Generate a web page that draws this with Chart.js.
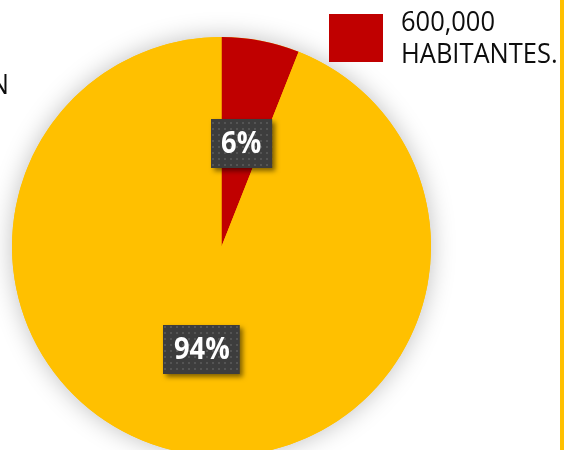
<!DOCTYPE html>
<html>
<head>
  <title>Habitantes</title>
  <script src="https://cdn.jsdelivr.net/npm/chart.js"></script>
  <style>
    html, body {
      margin: 0;
      padding: 0;
      background: #ffffff;
      overflow: hidden;
    }
    #wrap {
      position: absolute;
      left: 0;
      top: 0;
      width: 565px;
      height: 456px; /* el pastel se sale un poco por abajo, como en el original */
    }
    #franja {
      position: absolute;
      left: 560px;
      top: 0;
      width: 4px;
      height: 450px;
      background: #FFC000;
    }
  </style>
</head>
<body>
  <div id="wrap"><canvas id="pastel"></canvas></div>
  <div id="franja"></div>

  <script>
    var categorias = ['600,000 HABITANTES.', 'RESTO'];
    var valores = [6, 94];
    var colores = ['#C00000', '#FFC000'];

    // patron punteado para las cajas de las etiquetas
    var pat = document.createElement('canvas');
    pat.width = 6;
    pat.height = 6;
    var pctx = pat.getContext('2d');
    pctx.fillStyle = '#3d3d3d';
    pctx.fillRect(0, 0, 6, 6);
    pctx.fillStyle = '#545454';
    pctx.fillRect(2, 2, 2, 2);

    // texto algo estrecho, parecido a Calibri
    function textoEstrecho(ctx, txt, x, y, escala) {
      ctx.save();
      ctx.translate(x, y);
      ctx.scale(escala, 1);
      ctx.fillText(txt, 0, 0);
      ctx.restore();
    }

    var sombraPastel = {
      id: 'sombraPastel',
      beforeDatasetsDraw: function (chart) {
        var arc = chart.getDatasetMeta(0).data[0];
        if (!arc) return;
        var ctx = chart.ctx;
        ctx.save();
        ctx.shadowColor = 'rgba(0,0,0,0.25)';
        ctx.shadowBlur = 24;
        ctx.fillStyle = colores[1];
        ctx.beginPath();
        ctx.arc(arc.x, arc.y, arc.outerRadius, 0, Math.PI * 2);
        ctx.fill();
        ctx.restore();
      }
    };

    var etiquetas = {
      id: 'etiquetas',
      afterDatasetsDraw: function (chart) {
        var ctx = chart.ctx;
        var total = valores.reduce(function (a, b) { return a + b; }, 0);
        var pattern = ctx.createPattern(pat, 'repeat');
        chart.getDatasetMeta(0).data.forEach(function (arc, i) {
          var pos = arc.tooltipPosition();
          var txt = Math.round(valores[i] / total * 100) + '%';
          ctx.save();
          ctx.font = 'bold 31px "Open Sans"';
          var esc = 0.88;
          var w = ctx.measureText(txt).width * esc + 21;
          var h = 49;
          var x = Math.round(pos.x - w / 2);
          var y = Math.round(pos.y - h / 2);
          ctx.shadowColor = 'rgba(0,0,0,0.5)';
          ctx.shadowBlur = 5;
          ctx.shadowOffsetX = 3;
          ctx.shadowOffsetY = 3;
          ctx.fillStyle = pattern;
          ctx.fillRect(x, y, w, h);
          ctx.shadowColor = 'transparent';
          ctx.fillStyle = '#ffffff';
          ctx.textAlign = 'center';
          ctx.textBaseline = 'middle';
          textoEstrecho(ctx, txt, pos.x, pos.y + 1, esc);
          ctx.restore();
        });
      },
      afterDraw: function (chart) {
        var ctx = chart.ctx;
        ctx.save();
        // leyenda (solo la primera entrada es visible)
        ctx.fillStyle = colores[0];
        ctx.fillRect(329, 14, 54, 48);
        ctx.fillStyle = '#0d0d0d';
        ctx.font = '28px "Open Sans"';
        ctx.textAlign = 'left';
        ctx.textBaseline = 'alphabetic';
        var partes = categorias[0].split(' ');
        textoEstrecho(ctx, partes[0], 401, 31, 0.91);
        textoEstrecho(ctx, partes[1], 401, 63, 0.91);
        // resto del titulo cortado a la izquierda
        ctx.textAlign = 'right';
        textoEstrecho(ctx, 'N', 9, 94, 0.91);
        ctx.restore();
      }
    };

    var ctx = document.getElementById('pastel').getContext('2d');
    var grafico = new Chart(ctx, {
      type: 'pie',
      data: {
        labels: categorias,
        datasets: [{
          data: valores,
          backgroundColor: colores,
          borderWidth: 0
        }]
      },
      options: {
        responsive: true,
        maintainAspectRatio: false,
        animation: false,
        layout: {
          padding: { top: 37, left: 12, right: 134, bottom: 0 }
        },
        plugins: {
          legend: { display: false },
          tooltip: { enabled: false }
        }
      },
      plugins: [sombraPastel, etiquetas]
    });
  </script>
</body>
</html>
